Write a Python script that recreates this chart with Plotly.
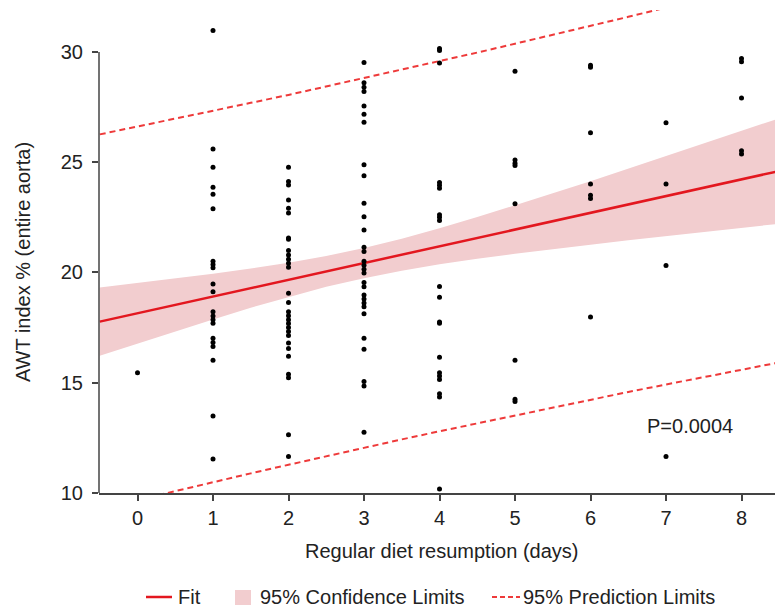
import plotly.graph_objects as go

# ---- data ----
days = [0, 1, 2, 3, 4, 5, 6, 7, 8]
awt_day0 = [15.45]
awt_day1 = [30.97, 25.6, 24.77, 23.86, 23.55, 22.89, 20.51, 20.36, 20.21, 19.48, 19.13,
            18.22, 18.03, 17.85, 17.7, 17.02, 16.82, 16.64, 16.02, 13.49, 11.54]
awt_day2 = [24.77, 24.12, 23.97, 23.29, 22.91, 22.69, 21.56, 21.5, 21.0, 20.79, 20.6, 20.42,
            20.24, 19.06, 18.64, 18.22, 18.04, 17.86, 17.68, 17.5, 17.32, 17.14, 16.8, 16.55,
            16.2, 15.38, 15.22, 12.64, 11.66]
awt_day3 = [29.52, 28.6, 28.4, 28.2, 27.55, 27.17, 26.81, 24.88, 24.38, 23.14, 22.53, 21.93,
            21.14, 20.95, 20.51, 20.33, 20.15, 19.97, 19.54, 19.35, 18.98, 18.8, 18.62, 18.45,
            18.13, 17.02, 16.52, 15.05, 14.85, 12.75]
awt_day4 = [30.15, 30.06, 29.5, 24.08, 23.95, 23.82, 22.62, 22.5, 22.35, 19.36, 18.88, 17.75,
            17.7, 16.16, 15.45, 15.3, 15.15, 14.5, 14.35, 10.18]
awt_day5 = [29.12, 25.1, 24.95, 24.85, 23.12, 16.02, 14.25, 14.15]
awt_day6 = [29.4, 29.3, 26.33, 24.01, 23.5, 23.35, 17.98]
awt_day7 = [26.79, 24.01, 20.31, 11.65]
awt_day8 = [29.7, 29.55, 27.91, 25.52, 25.37]

band_x = [-0.5, 0, 0.5, 1, 1.5, 2, 2.5, 3, 3.5, 4, 4.5, 5, 5.5, 6, 6.5, 7, 7.5, 8, 8.5]
fit_y = [17.77, 18.15, 18.53, 18.91, 19.29, 19.67, 20.05, 20.43, 20.81, 21.19, 21.57,
         21.95, 22.33, 22.70, 23.08, 23.46, 23.84, 24.22, 24.60]
ci_lower = [16.22, 16.78, 17.33, 17.87, 18.40, 18.89, 19.35, 19.74, 20.08, 20.37, 20.62,
            20.85, 21.06, 21.26, 21.46, 21.65, 21.84, 22.03, 22.21]
ci_upper = [19.32, 19.52, 19.73, 19.94, 20.18, 20.44, 20.75, 21.11, 21.53, 22.00, 22.51,
            23.04, 23.59, 24.14, 24.71, 25.27, 25.84, 26.42, 26.99]
pi_lower = [9.28, 9.69, 10.10, 10.50, 10.89, 11.28, 11.67, 12.05, 12.43, 12.80, 13.16,
            13.52, 13.88, 14.23, 14.58, 14.92, 15.26, 15.59, 15.92]
pi_upper = [26.26, 26.61, 26.96, 27.32, 27.69, 28.05, 28.43, 28.80, 29.19, 29.58, 29.97,
            30.37, 30.77, 31.18, 31.59, 32.01, 32.43, 32.85, 33.29]

x_ticks = [0, 1, 2, 3, 4, 5, 6, 7, 8]
y_ticks = [10, 15, 20, 25, 30]
legend_labels = ["Fit", "95% Confidence Limits", "95% Prediction Limits"]
p_label = "P=0.0004"

FONT = "Liberation Sans, Arial, Helvetica, sans-serif"
TXT = "#222222"
RED = "#e3171f"
DASH_RED = "#ee3a3a"
BAND = "#f2cdcf"
AX = "#444444"
FS = 20

groups = [awt_day0, awt_day1, awt_day2, awt_day3, awt_day4, awt_day5, awt_day6, awt_day7, awt_day8]
pts_x, pts_y = [], []
for d, vals in zip(days, groups):
    pts_x += [d] * len(vals)
    pts_y += vals

fig = go.Figure()

fig.add_trace(go.Scatter(
    x=band_x + band_x[::-1], y=ci_upper + ci_lower[::-1],
    fill="toself", fillcolor=BAND, line=dict(width=0), mode="lines",
    name=legend_labels[1], hoverinfo="skip"))

fig.add_trace(go.Scatter(x=band_x, y=pi_upper, mode="lines",
                         line=dict(color=DASH_RED, width=2, dash="6px,4px"),
                         name=legend_labels[2]))
fig.add_trace(go.Scatter(x=band_x, y=pi_lower, mode="lines",
                         line=dict(color=DASH_RED, width=2, dash="6px,4px"),
                         name=legend_labels[2]))

fig.add_trace(go.Scatter(x=band_x, y=fit_y, mode="lines",
                         line=dict(color=RED, width=2.5), name=legend_labels[0]))

fig.add_trace(go.Scatter(x=pts_x, y=pts_y, mode="markers",
                         marker=dict(color="black", size=5), name="AWT index"))

# page has an 8px body margin: figure is offset by 8px in the window
OFF = 8
W, H = 783 - OFF, 610 - OFF
# plot area in window px: 99..780 horizontally, 10..493 vertically
L, R, T, B = 99 - OFF, 780 - OFF, 10 - OFF, 493 - OFF


def px(x):
    return (x - OFF - L) / (R - L)


def py(y):
    return (B - (y - OFF)) / (B - T)


leg_y = py(597)
shapes = [
    dict(type="line", xref="paper", yref="y", x0=0, x1=0, y0=10, y1=30,
         line=dict(color=AX, width=1.5)),
    dict(type="line", xref="paper", yref="paper", x0=px(146), x1=px(172), y0=leg_y, y1=leg_y,
         line=dict(color=RED, width=2.5)),
    dict(type="rect", xref="paper", yref="paper", x0=px(235), x1=px(251), y0=py(590), y1=py(605),
         fillcolor=BAND, line=dict(width=0)),
    dict(type="line", xref="paper", yref="paper", x0=px(492), x1=px(520), y0=leg_y, y1=leg_y,
         line=dict(color=DASH_RED, width=2, dash="5px,3px")),
]

annotations = [
    dict(text="Regular diet resumption (days)", xref="paper", yref="paper",
         x=px(441), y=py(551), xanchor="center", yanchor="middle", showarrow=False,
         font=dict(size=FS, color=TXT)),
    dict(text="AWT index % (entire aorta)", xref="paper", yref="paper",
         x=px(23), y=py(262), xanchor="center", yanchor="middle", showarrow=False,
         textangle=-90, font=dict(size=FS, color=TXT)),
    dict(text=p_label, xref="x", yref="y", x=7.32, y=13.05, xanchor="center",
         yanchor="middle", showarrow=False, font=dict(size=FS, color=TXT)),
    dict(text=legend_labels[0], xref="paper", yref="paper", x=px(176), y=leg_y,
         xanchor="left", yanchor="middle", showarrow=False, font=dict(size=FS, color=TXT)),
    dict(text=legend_labels[1], xref="paper", yref="paper", x=px(258), y=leg_y,
         xanchor="left", yanchor="middle", showarrow=False, font=dict(size=FS, color=TXT)),
    dict(text=legend_labels[2], xref="paper", yref="paper", x=px(521), y=leg_y,
         xanchor="left", yanchor="middle", showarrow=False, font=dict(size=FS, color=TXT)),
]

fig.update_layout(
    width=W, height=H,
    margin=dict(l=L, r=W - R, t=T, b=H - B, autoexpand=False),
    plot_bgcolor="white", paper_bgcolor="white",
    font=dict(family=FONT, size=FS, color=TXT),
    showlegend=False,
    xaxis=dict(range=[-0.51, 8.51], tickvals=x_ticks, ticktext=[str(v) for v in x_ticks],
               showgrid=False, zeroline=False, showline=True, linecolor=AX,
               linewidth=1.5, ticks="outside", ticklen=6, tickcolor=AX, tickwidth=1.5,
               tickfont=dict(size=FS, color=TXT), automargin=False),
    yaxis=dict(range=[10, 31.9], tickvals=y_ticks, ticktext=[str(v) for v in y_ticks],
               showgrid=False, zeroline=False, showline=False,
               ticks="outside", ticklen=6, tickcolor=AX, tickwidth=1.5,
               ticklabelstandoff=5, tickfont=dict(size=FS, color=TXT), automargin=False),
    shapes=shapes,
    annotations=annotations,
)

fig.write_html("out.html")
